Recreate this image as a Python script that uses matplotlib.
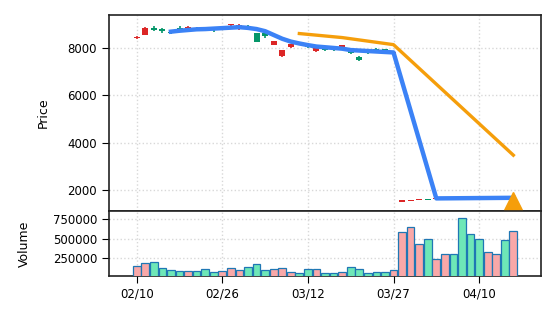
import numpy as np
import matplotlib
matplotlib.use("Agg")
import matplotlib.pyplot as plt

# OHLC per trading day (index 0..44)
opens = [8480, 8870, 8750, 8710, 8640, 8800, 8900, 8830, 8780, 8800,
         8900, 9040, 8980, 8800, 8280, 8500, 8300, 7930, 8160, 8200,
         8040, 7990, 7930, 7920, 8130, 7800, 7520, 7790, 7900, 7880,
         7850, 1560, 1560, 1600, 1570, 1660, 1670, 1640, 1650, 1640,
         1650, 1680, 1670, 1640, 1680]
closes = [8420, 8550, 8840, 8830, 8700, 8860, 8800, 8870, 8880, 8850,
          8860, 8970, 8950, 8960, 8630, 8630, 8150, 7660, 8040, 8260,
          8100, 7880, 7990, 7990, 8030, 7920, 7640, 7850, 7980, 7950,
          7800, 1500, 1530, 1570, 1600, 1630, 1640, 1670, 1690, 1680,
          1680, 1650, 1640, 1670, 1650]
highs = [8520, 8880, 8930, 8840, 8720, 8930, 8930, 8880, 8900, 8870,
         8920, 9040, 9015, 9000, 8640, 8650, 8320, 7940, 8180, 8280,
         8120, 8000, 8000, 8000, 8140, 7940, 7660, 7870, 7990, 7960,
         7860, 1570, 1570, 1610, 1610, 1670, 1680, 1680, 1700, 1690,
         1690, 1690, 1680, 1680, 1690]
lows = [8390, 8540, 8740, 8650, 8600, 8780, 8790, 8800, 8760, 8690,
        8840, 8930, 8750, 8760, 8250, 8420, 8120, 7640, 7990, 8180,
        8020, 7860, 7900, 7890, 8010, 7770, 7440, 7760, 7880, 7850,
        7780, 1490, 1520, 1560, 1560, 1620, 1630, 1630, 1640, 1630,
        1640, 1640, 1630, 1630, 1640]
volumes = [146000, 185000, 198000, 120000, 90000, 73000, 73000, 73000, 107000, 64000,
           77000, 120000, 90000, 133000, 172000, 90000, 107000, 120000, 64000, 51000,
           102000, 102000, 51000, 51000, 68000, 133000, 107000, 51000, 68000, 68000,
           94000, 587000, 646000, 431000, 496000, 241000, 302000, 302000, 768000, 561000,
           496000, 323000, 302000, 487000, 595000]

# moving average line
ma_x = [4, 5, 6, 7, 8, 9, 10, 11, 12, 13, 14, 15, 16, 17, 18, 19, 20,
        21, 22, 23, 24, 25, 26, 27, 28, 29, 30, 35, 44]
ma_y = [8700, 8740, 8770, 8800, 8810, 8830, 8850, 8870, 8890, 8860, 8810,
        8720, 8560, 8400, 8280, 8200, 8130, 8070, 8040, 8010, 7980, 7920,
        7900, 7880, 7860, 7840, 7820, 1640, 1665]

# forecast line and signal
fc_x = [19, 24, 30, 44]
fc_y = [8620, 8450, 8150, 3470]
signal_x = [44]
signal_y = [1550]

tick_pos = [0, 10, 20, 30, 40]
tick_labels = ["02/10", "02/26", "03/12", "03/27", "04/10"]

RED = "#dc2626"
GREEN = "#059669"

fig = plt.figure(figsize=(5.56, 3.22), dpi=100)
ax = fig.add_axes([0.196, 0.345, 0.777, 0.608])
axv = fig.add_axes([0.196, 0.143, 0.777, 0.202], sharex=ax)

x = np.arange(len(opens))
o = np.array(opens)
c = np.array(closes)
up = c >= o
colors = np.where(up, GREEN, RED)

# candles
ax.vlines(x, lows, highs, colors=colors, linewidth=1.2, zorder=2)
body_h = np.maximum(np.abs(c - o), 25)
ax.bar(x, body_h, bottom=np.minimum(o, c), width=0.7, color=colors, zorder=3)

ax.plot(ma_x, ma_y, color="#3b82f6", linewidth=3.2, zorder=4)
ax.plot(fc_x, fc_y, color="#f59e0b", linewidth=2.4, zorder=4)
ax.plot(signal_x, signal_y, marker="^", color="#f59e0b", markersize=13,
        linestyle="none", zorder=5)

ax.set_ylim(1110, 9400)
ax.set_xlim(-3.24, 47.23)
ax.set_yticks([2000, 4000, 6000, 8000])
ax.set_ylabel("Price", fontsize=9, labelpad=13)
ax.tick_params(axis="x", bottom=False, labelbottom=False)
ax.tick_params(axis="y", labelsize=8.5, length=5)
ax.grid(True, linestyle=":", color="#d8d8d8", linewidth=1.0)
ax.set_axisbelow(True)

vcol = np.where(up, "#6ee7b7", "#f9a8a8")
axv.bar(x, volumes, width=0.9, color=vcol, edgecolor="#1f77b4", linewidth=0.9, zorder=3)
axv.set_ylim(15000, 860000)
axv.set_yticks([250000, 500000, 750000])
axv.set_xticks(tick_pos)
axv.set_xticklabels(tick_labels)
axv.set_ylabel("Volume", fontsize=9, labelpad=16)
axv.tick_params(labelsize=8.5, length=5)
axv.grid(True, linestyle=":", color="#d8d8d8", linewidth=1.0)
axv.set_axisbelow(True)

for a in (ax, axv):
    for s in a.spines.values():
        s.set_color("#222222")
        s.set_linewidth(1.2)

fig.savefig("out.png", dpi=100)
